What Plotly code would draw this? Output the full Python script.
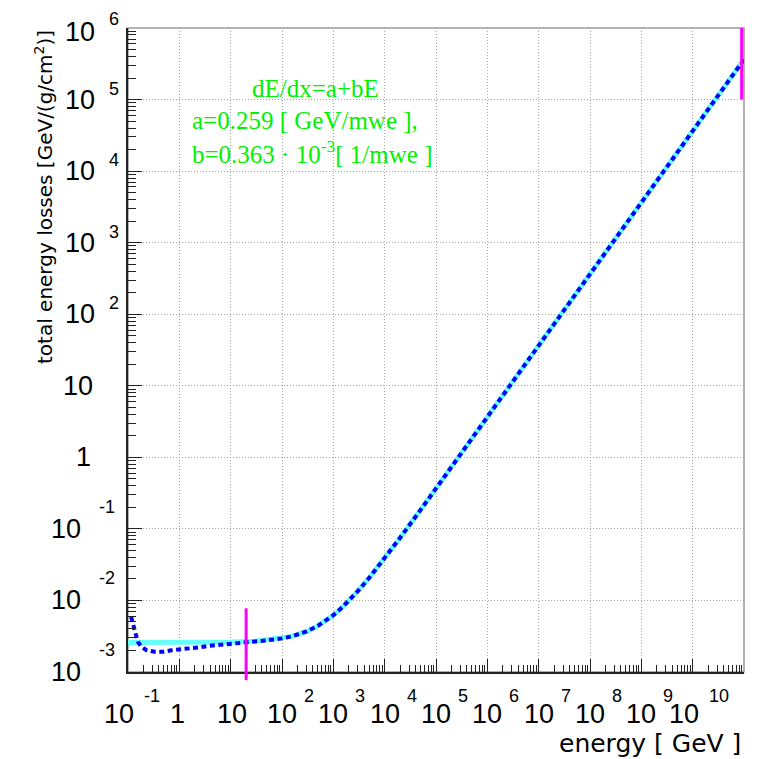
import plotly.graph_objects as go

# ---------------- data ----------------
# linear model dE/dx = a + bE  (cyan)
energy_fit = [0.1, 1, 10, 30, 100, 150, 200, 300, 500, 700, 1000, 1500, 2000, 3000,
              5000, 7000, 1e4, 2e4, 5e4, 1e5, 1e6, 1e7, 1e8, 1e9, 1e10, 1e11]
loss_fit = [2.59e-3, 2.59e-3, 2.63e-3, 2.70e-3, 2.95e-3, 3.13e-3, 3.32e-3, 3.68e-3,
            4.41e-3, 5.13e-3, 6.22e-3, 8.04e-3, 9.85e-3, 1.35e-2, 2.07e-2, 2.80e-2,
            3.89e-2, 7.52e-2, 0.184, 0.366, 3.63, 36.3, 363, 3.63e3, 3.63e4, 3.63e5]

# total energy losses (blue dotted)
energy_real = [0.115, 0.124, 0.134, 0.155, 0.181, 0.226, 0.33, 0.48, 0.75, 1.1, 1.7,
               2.5, 3.6, 5.2, 8.2, 12, 19, 30, 50, 70, 100, 150, 200, 300, 500, 700, 1000,
               1500, 2000, 3000, 5000, 7000, 1e4, 2e4, 5e4, 1e5, 1e6, 1e7, 1e8, 1e9,
               1e10, 1e11]
loss_real = [5.9e-3, 4.8e-3, 3.66e-3, 2.65e-3, 2.26e-3, 2.03e-3, 1.92e-3, 1.92e-3,
             2.03e-3, 2.07e-3, 2.14e-3, 2.21e-3, 2.31e-3, 2.38e-3, 2.44e-3, 2.52e-3,
             2.57e-3, 2.67e-3, 2.77e-3, 2.84e-3, 2.95e-3, 3.13e-3, 3.32e-3, 3.68e-3, 4.41e-3,
             5.13e-3, 6.22e-3, 8.04e-3, 9.85e-3, 1.35e-2, 2.07e-2, 2.80e-2, 3.89e-2,
             7.52e-2, 0.184, 0.366, 3.63, 36.3, 363, 3.63e3, 3.63e4, 3.63e5]

# magenta range markers
marker_left_energy = [20, 20]
marker_left_loss = [7.76e-3, 7.7e-4]
marker_right_energy = [9e10, 9e10]
marker_right_loss = [1.0e5, 1.0e6]

# tick labels (exponents of 10)
x_tick_exps = [-1, 0, 1, 2, 3, 4, 5, 6, 7, 8, 9, 10]
y_tick_exps = [-3, -2, -1, 0, 1, 2, 3, 4, 5, 6]

x_title = "energy [ GeV ]"
y_title = "total energy losses [GeV/(g/cm<sup>2</sup>)]"
fit_text = ["dE/dx=a+bE", "a=0.259 [ GeV/mwe ],", "b=0.363 · 10<sup>-3</sup>[ 1/mwe ]"]

# ---------------- layout constants ----------------
W, H = 757, 759
ML, MR, MT, MB = 128, 13, 28, 75
EXTRA = 12                      # pixels the overlay axis extends below the frame
plot_h = H - MT - MB            # 656
main_h = plot_h - EXTRA         # 644
x_range = [-1, 11]
y_range = [-3, 6]
y2_range = [y_range[0] - EXTRA * (y_range[1] - y_range[0]) / main_h, y_range[1]]

SANS = "Liberation Sans"
TITLE_FONT = "DejaVu Sans"
GRID = "#a6a6a6"
AXC = "#222222"
BASE_SIZE = 27
EXP_SIZE = 18


def minor_positions(lo, hi):
    out = []
    for k in range(lo, hi):
        for m in range(2, 10):
            out.append(m * 10.0 ** k)
    return out


fig = go.Figure()

fig.add_trace(go.Scatter(x=energy_fit, y=loss_fit, mode="lines",
                         line=dict(color="#66ffff", width=5),
                         xaxis="x", yaxis="y", hoverinfo="skip"))
fig.add_trace(go.Scatter(x=energy_real, y=loss_real, mode="lines",
                         line=dict(color="#0000ff", width=4, dash="5px,3.5px"),
                         xaxis="x", yaxis="y", hoverinfo="skip"))
for ex, ey in [(marker_left_energy, marker_left_loss), (marker_right_energy, marker_right_loss)]:
    fig.add_trace(go.Scatter(x=ex, y=ey, mode="lines",
                             line=dict(color="#ff00ff", width=3),
                             xaxis="x2", yaxis="y2", hoverinfo="skip"))

# frame (top / right in grey)
fig.add_shape(type="rect", xref="x domain", yref="y domain", x0=0, x1=1, y0=0, y1=1,
              line=dict(color="#9a9a9a", width=1.5), layer="below")

common_axis = dict(type="log", showgrid=True, gridcolor=GRID, griddash="1px,2px",
                   gridwidth=1, zeroline=False, showticklabels=False,
                   ticks="inside", tickcolor=AXC, dtick=1,
                   showline=True, linecolor=AXC, linewidth=1.5)

fig.update_layout(
    width=W, height=H,
    margin=dict(l=ML, r=MR, t=MT, b=MB, pad=0),
    paper_bgcolor="white", plot_bgcolor="rgba(0,0,0,0)",
    showlegend=False,
    xaxis=dict(common_axis, range=x_range, domain=[0, 1], anchor="y", ticklen=13,
               minor=dict(ticks="inside", ticklen=7, tickmode="array",
                          tickvals=minor_positions(-1, 11), tickcolor=AXC, showgrid=False)),
    yaxis=dict(common_axis, range=y_range, domain=[EXTRA / plot_h, 1], anchor="x", ticklen=14,
               minor=dict(ticks="inside", ticklen=8, tickmode="array",
                          tickvals=minor_positions(-3, 6), tickcolor=AXC, showgrid=False)),
    xaxis2=dict(type="log", range=x_range, domain=[0, 1], anchor="y2", visible=False,
                showgrid=False),
    yaxis2=dict(type="log", range=y2_range, domain=[0, 1], anchor="x2", visible=False,
                showgrid=False),
)

ann = []
# x tick labels
for e in x_tick_exps:
    if e == 0:
        ann.append(dict(text="1", xref="x", x=e, yref="y domain", y=0, xanchor="center",
                        yanchor="middle", xshift=-2, yshift=-42, showarrow=False,
                        font=dict(family=SANS, size=BASE_SIZE, color="black")))
        continue
    if e == 1:
        ann.append(dict(text="10", xref="x", x=e, yref="y domain", y=0, xanchor="center",
                        yanchor="middle", xshift=1, yshift=-42, showarrow=False,
                        font=dict(family=SANS, size=BASE_SIZE, color="black")))
        continue
    s = str(e)
    bshift = -9 if len(s) == 2 else 0
    eshift = bshift + 23 if len(s) == 2 else 20
    ann.append(dict(text="10", xref="x", x=e, yref="y domain", y=0, xanchor="center",
                    yanchor="middle", xshift=bshift, yshift=-42, showarrow=False,
                    font=dict(family=SANS, size=BASE_SIZE, color="black")))
    ann.append(dict(text=s, xref="x", x=e, yref="y domain", y=0, xanchor="left",
                    yanchor="middle", xshift=eshift, yshift=-24, showarrow=False,
                    font=dict(family=SANS, size=EXP_SIZE, color="black")))

# y tick labels
for e in y_tick_exps:
    if e == 0:
        ann.append(dict(text="1", xref="x domain", x=0, yref="y", y=e, xanchor="right",
                        yanchor="middle", xshift=-35, yshift=0, showarrow=False,
                        font=dict(family=SANS, size=BASE_SIZE, color="black")))
        continue
    if e == 1:
        ann.append(dict(text="10", xref="x domain", x=0, yref="y", y=e, xanchor="right",
                        yanchor="middle", xshift=-33, yshift=0, showarrow=False,
                        font=dict(family=SANS, size=BASE_SIZE, color="black")))
        continue
    neg = e < 0
    top = e == y_tick_exps[-1]
    ann.append(dict(text="10", xref="x domain", x=0, yref="y", y=e, xanchor="right",
                    yanchor="middle", xshift=-45 if neg else -31,
                    yshift=-4 if top else 0, showarrow=False,
                    font=dict(family=SANS, size=BASE_SIZE, color="black")))
    ann.append(dict(text=str(e), xref="x domain", x=0, yref="y", y=e, xanchor="left",
                    yanchor="middle", xshift=-31 if neg else -21,
                    yshift=22 if neg else (9 if top else 11), showarrow=False,
                    font=dict(family=SANS, size=EXP_SIZE, color="black")))

# axis titles
ann.append(dict(text=x_title, xref="x domain", x=1, yref="y domain", y=0,
                xanchor="right", yanchor="middle", xshift=-1, yshift=-71, showarrow=False,
                font=dict(family=TITLE_FONT, size=25, color="black")))
ann.append(dict(text=y_title, xref="x domain", x=0, yref="y domain", y=1,
                xanchor="center", yanchor="top", xshift=-84, yshift=0, textangle=-90,
                showarrow=False, font=dict(family=TITLE_FONT, size=20, color="black")))

# fit text
GREEN = "#00f000"
FIT_SIZE = 25
ann.append(dict(text=fit_text[0], xref="x domain", x=0.3036, yref="y domain", y=0.9068,
                xanchor="center", yanchor="middle", showarrow=False,
                font=dict(family="Liberation Serif", size=FIT_SIZE, color=GREEN)))
ann.append(dict(text=fit_text[1], xref="x domain", x=0.1006, yref="y domain", y=0.857,
                xanchor="left", yanchor="middle", showarrow=False,
                font=dict(family="Liberation Serif", size=FIT_SIZE, color=GREEN)))
ann.append(dict(text=fit_text[2], xref="x domain", x=0.1006, yref="y domain", y=0.8075,
                xanchor="left", yanchor="middle", showarrow=False,
                font=dict(family="Liberation Serif", size=FIT_SIZE, color=GREEN)))

fig.update_layout(annotations=ann)

fig.write_html("out.html", config={"displayModeBar": False})
